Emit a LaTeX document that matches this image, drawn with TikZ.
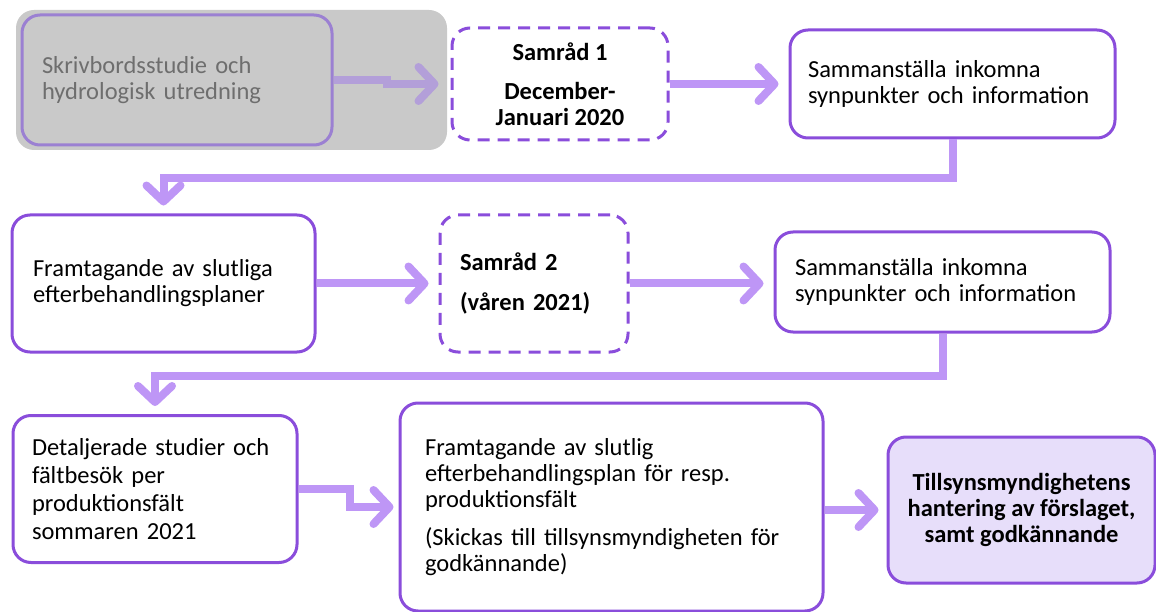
\documentclass[tikz,border=0pt]{standalone}
\usepackage{fontspec}
\setmainfont{Carlito}
\usetikzlibrary{arrows.meta,calc}
\definecolor{bord}{HTML}{8A4DDB}
\definecolor{conn}{HTML}{BE96F6}
\definecolor{grayconn}{HTML}{B39FD9}
\definecolor{graybord}{HTML}{9B80D2}
\definecolor{bgray}{HTML}{C9C9C9}
\definecolor{graytext}{HTML}{6E6E6E}
\definecolor{fillv}{HTML}{E7DEFA}
\begin{document}
\begin{tikzpicture}[x=1pt,y=-1pt,
  box/.style={draw=bord, line width=3pt, rounded corners=18pt, fill=white,
    font=\fontsize{24.5}{26}\selectfont, inner sep=0pt, align=left},
  dashbox/.style={box, dash pattern=on 12pt off 8pt},
  conn/.style={draw=conn, line width=8pt,
    -{Straight Barb[length=16pt, width=34pt, round]}},
]
\useasboundingbox (0,0) rectangle (1156,612);

% grey background behind first step
\node[fill=bgray, rounded corners=18pt, minimum width=431pt, minimum height=140pt, inner sep=0pt] (bg) at (231.5,80) {};

\node[box, draw=graybord, fill=none, text=graytext, minimum width=310pt, minimum height=130pt, text width=270pt] (b1) at (177,80)
  {Skrivbordsstudie och\\hydrologisk utredning};

\node[dashbox, align=center, font=\fontsize{24.5}{26}\selectfont\bfseries, minimum width=216pt, minimum height=112pt] (s1) at (560,84)
  {Samråd 1\\[13pt]December-\\Januari 2020};

\node[box, minimum width=325pt, minimum height=108pt, text width=289pt] (b3) at (952.5,84)
  {Sammanställa inkomna\\synpunkter och information};

\node[box, minimum width=303pt, minimum height=137pt, text width=261pt] (b4) at (163.5,283.5)
  {Framtagande av slutliga\\efterbehandlingsplaner};

\node[dashbox, font=\fontsize{24.5}{26}\selectfont\bfseries, minimum width=188pt, minimum height=137pt, text width=148pt] (s2) at (534,283.5)
  {Samråd 2\\[14pt](våren 2021)};

\node[box, minimum width=335pt, minimum height=100pt, text width=295pt] (b6) at (942.5,282)
  {Sammanställa inkomna\\synpunkter och information};

\node[box, font=\fontsize{24.5}{28}\selectfont, minimum width=284pt, minimum height=147pt, text width=246pt] (b7) at (155,489)
  {Detaljerade studier och\\fältbesök per\\produktionsfält\\sommaren 2021};

\node[box, minimum width=423pt, minimum height=208pt, text width=373pt] (b8) at (611.5,507)
  {Framtagande av slutlig\\efterbehandlingsplan för resp.\\produktionsfält\\[12pt](Skickas till tillsynsmyndigheten för\\godkännande)};

\node[box, fill=fillv, align=center, font=\fontsize{24.5}{26}\selectfont\bfseries, minimum width=267pt, minimum height=146pt] (b9) at (1021.5,510)
  {Tillsynsmyndighetens\\hantering av förslaget,\\samt godkännande};

% connectors
\draw[conn, draw=grayconn, shorten >=12pt] (b1.east) -- ++(53,0) |- (s1.west);
\draw[conn, shorten >=10pt] (s1.east) -- (b3.west);
\draw[conn, shorten >=8pt] (b3.south) -- ++(0,39) -| (b4.north);
\draw[conn, shorten >=10pt] (b4.east) -- (s2.west);
\draw[conn, shorten >=10pt] (s2.east) -- (s2.east -| b6.west);
\draw[conn, shorten >=8pt] (b6.south) -- ++(0,42) -| (b7.north);
\draw[conn, shorten >=5pt] (b7.east) -- ++(51,0) |- (b8.west);
\draw[conn, shorten >=8pt] (b8.east |- b9.west) -- (b9.west);
\end{tikzpicture}
\end{document}
